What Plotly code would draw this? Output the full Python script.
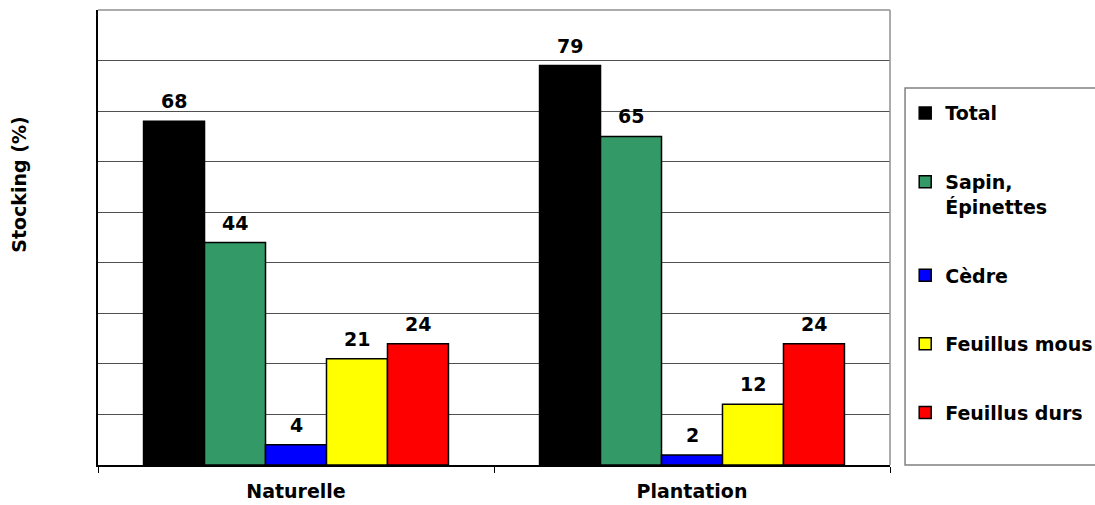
import plotly.graph_objects as go

# Stand types on the x axis
stands = ["Naturelle", "Plantation"]

# Stocking (%) per species group, one list per series
total = [68, 79]
sapin_epinettes = [44, 65]
cedre = [4, 2]
feuillus_mous = [21, 12]
feuillus_durs = [24, 24]

series = [
    ("Total", total, "#000000"),
    ("Sapin,<br>Épinettes", sapin_epinettes, "#339966"),
    ("Cèdre", cedre, "#0000FF"),
    ("Feuillus mous", feuillus_mous, "#FFFF00"),
    ("Feuillus durs", feuillus_durs, "#FF0000"),
]

FONT = "DejaVu Sans, Verdana, sans-serif"
FS = 19
BARGAP = 0.23

fig = go.Figure()
for i, (name, vals, color) in enumerate(series):
    fig.add_trace(go.Bar(
        name=name,
        x=stands,
        y=vals,
        marker=dict(color=color, line=dict(color="#000000", width=1.5)),
        legendgroup=f"g{i}",
    ))

# Value labels above each bar, placed at the grouped-bar centres
n = len(series)
slot = (1 - BARGAP) / n
labels = []
for j, (_, vals, _) in enumerate(series):
    for i, v in enumerate(vals):
        labels.append(dict(
            x=i - (1 - BARGAP) / 2 + slot * (j + 0.5),
            y=v,
            xref="x", yref="y",
            text=str(v),
            showarrow=False,
            xanchor="center", yanchor="bottom",
            yshift=7,
            font=dict(family=FONT, size=FS, color="#000000", weight="bold"),
        ))

fig.update_layout(
    width=1095,
    height=505,
    margin=dict(l=98, r=205, t=10, b=40, autoexpand=False),
    paper_bgcolor="white",
    plot_bgcolor="white",
    barmode="group",
    bargap=BARGAP,
    bargroupgap=0,
    font=dict(family=FONT, size=FS, color="#000000"),
    showlegend=True,
    legend=dict(
        x=1.0192, xanchor="left",
        y=0.815, yanchor="top",
        borderwidth=0,
        bgcolor="rgba(0,0,0,0)",
        tracegroupgap=41,
        valign="top",
        font=dict(family=FONT, size=FS, color="#000000", weight="bold"),
        itemclick=False,
    ),
    xaxis=dict(
        type="category",
        tickson="boundaries",
        ticks="outside",
        ticklen=6,
        tickcolor="#000000",
        showline=True,
        linecolor="#000000",
        linewidth=1.5,
        showgrid=False,
        automargin=False,
        tickfont=dict(family=FONT, size=FS, color="#000000", weight="bold"),
        ticklabelstandoff=8,
    ),
    yaxis=dict(
        range=[0, 90],
        dtick=10,
        showticklabels=False,
        showgrid=True,
        gridcolor="#505050",
        gridwidth=1,
        showline=True,
        linecolor="#000000",
        linewidth=1.5,
        zeroline=False,
        automargin=False,
    ),
    annotations=labels + [
        dict(
            text="Stocking (%)",
            xref="paper", yref="paper",
            x=-0.099, y=0.615,
            xanchor="center", yanchor="middle",
            textangle=-90,
            showarrow=False,
            font=dict(family=FONT, size=FS, color="#000000", weight="bold"),
        )
    ],
    shapes=[
        # plot-area frame on the top and right sides
        dict(type="line", xref="paper", yref="paper", x0=0, x1=1, y0=1, y1=1,
             line=dict(color="#909090", width=1.5)),
        dict(type="line", xref="paper", yref="paper", x0=1, x1=1, y0=0, y1=1,
             line=dict(color="#909090", width=1.5)),
        # legend frame
        dict(type="rect", xref="paper", yref="paper",
             x0=1.019, x1=1.32, y0=0.0, y1=0.8286,
             line=dict(color="#808080", width=1.5), layer="below"),
    ],
)

fig.write_html("out.html")
